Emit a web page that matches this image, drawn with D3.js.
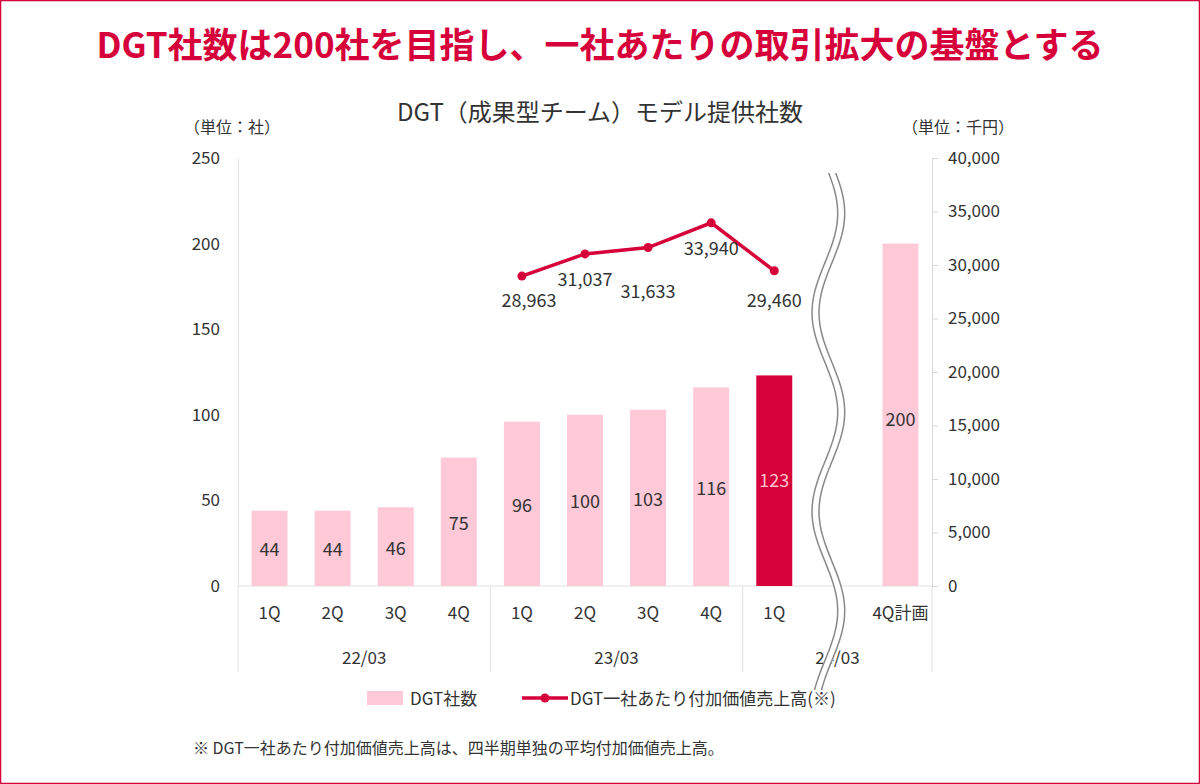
<!DOCTYPE html>
<html><head><meta charset="utf-8">
<script src="https://cdn.jsdelivr.net/npm/d3@7"></script>
<style>body{margin:0;background:#fff;font-family:"Noto Sans CJK JP","Noto Sans",sans-serif;}</style>
</head><body><div id="c"></div>
<script>
var categories = ["1Q","2Q","3Q","4Q","1Q","2Q","3Q","4Q","1Q","","4Q計画"];
var groups = [{label:"22/03", from:0, to:4}, {label:"23/03", from:4, to:8}, {label:"24/03", from:8, to:11}];
var companies = [44,44,46,75,96,100,103,116,123,null,200];
var salesIdx = [4,5,6,7,8];
var sales = [28963,31037,31633,33940,29460];
var salesLabelDy = [31,32,50,32,36];
var leftTicks = [0,50,100,150,200,250];
var rightTicks = [0,5000,10000,15000,20000,25000,30000,35000,40000];

var W=1200,H=784, red="#d6003a", pink="#ffc9d8", txt="#333";
var svg=d3.select("#c").append("svg").attr("width",W).attr("height",H);
svg.append("rect").attr("x",0.5).attr("y",0.5).attr("width",W-1).attr("height",H-1).attr("fill","#fff").attr("stroke",red).attr("stroke-width",1.5);
svg.append("text").attr("x",600).attr("y",58).attr("text-anchor","middle").attr("fill",red).attr("font-size",35).attr("font-weight","bold").text("DGT社数は200社を目指し、一社あたりの取引拡大の基盤とする");
svg.append("text").attr("x",600).attr("y",121).attr("text-anchor","middle").attr("fill",txt).attr("font-size",24).text("DGT（成果型チーム）モデル提供社数");

var L=238, R=932, T=158, B=586;
var x=d3.scaleBand().domain(d3.range(categories.length)).range([L,R]).paddingInner(0.43).paddingOuter(0.215);
var y=d3.scaleLinear().domain([0,250]).range([B,T]);
var y2=d3.scaleLinear().domain([0,40000]).range([B,T]);
var cx=function(i){return x(i)+x.bandwidth()/2;};

var gl=svg.append("g").attr("transform","translate("+L+",0)").call(d3.axisLeft(y).tickValues(leftTicks).tickSize(0).tickPadding(18));
gl.select(".domain").attr("stroke","#e2e2e2");
gl.selectAll("text").attr("font-size",17).attr("fill",txt).attr("font-family","Noto Sans CJK JP");
var gr=svg.append("g").attr("transform","translate("+R+",0)").call(d3.axisRight(y2).tickValues(rightTicks).tickFormat(d3.format(",")).tickSize(6).tickPadding(10));
gr.selectAll("line,.domain").attr("stroke","#d8d8d8");
gr.selectAll("text").attr("font-size",17).attr("fill",txt).attr("font-family","Noto Sans CJK JP");
svg.append("text").attr("x",232).attr("y",133).attr("text-anchor","middle").attr("fill",txt).attr("font-size",16).text("（単位：社）");
svg.append("text").attr("x",958).attr("y",133).attr("text-anchor","middle").attr("fill",txt).attr("font-size",16).text("（単位：千円）");

svg.append("line").attr("x1",L).attr("x2",R).attr("y1",B).attr("y2",B).attr("stroke","#e2e2e2");
var bounds=[L, x(4)-x.step()*x.paddingInner()/2, x(8)-x.step()*x.paddingInner()/2, R];
svg.selectAll(".sep").data(bounds).enter().append("line").attr("x1",function(d){return d;}).attr("x2",function(d){return d;}).attr("y1",B).attr("y2",672).attr("stroke","#e2e2e2");
svg.selectAll(".cat").data(categories).enter().append("text").attr("x",function(d,i){return cx(i);}).attr("y",619).attr("text-anchor","middle").attr("fill",txt).attr("font-size",17).text(function(d){return d;});
svg.selectAll(".grp").data(groups).enter().append("text").attr("x",function(d,i){return (bounds[i]+bounds[i+1])/2;}).attr("y",664).attr("text-anchor","middle").attr("fill",txt).attr("font-size",17).text(function(d){return d.label;});

var bd=companies.map(function(v,i){return {v:v,i:i};}).filter(function(d){return d.v!=null;});
svg.selectAll(".bar").data(bd).enter().append("rect").attr("x",function(d){return x(d.i);}).attr("width",x.bandwidth()).attr("y",function(d){return y(d.v);}).attr("height",function(d){return B-y(d.v);}).attr("fill",function(d){return d.i===8?red:pink;});
svg.selectAll(".bl").data(bd).enter().append("text").attr("x",function(d){return cx(d.i);}).attr("y",function(d){return d.i===10?y(d.v)+182:Math.min((y(d.v)+B)/2+8, y(d.v)+112);}).attr("text-anchor","middle").attr("font-size",18).attr("fill",function(d){return d.i===8?"#ffc0d0":txt;}).text(function(d){return d.v;});

var ld=sales.map(function(v,k){return {v:v,i:salesIdx[k],dy:salesLabelDy[k]};});
svg.append("path").datum(ld).attr("fill","none").attr("stroke",red).attr("stroke-width",3.5).attr("d",d3.line().x(function(d){return cx(d.i);}).y(function(d){return y2(d.v);}));
svg.selectAll(".dot").data(ld).enter().append("circle").attr("cx",function(d){return cx(d.i);}).attr("cy",function(d){return y2(d.v);}).attr("r",4.5).attr("fill",red);
svg.selectAll(".ll").data(ld).enter().append("text").attr("x",function(d){return cx(d.i)+(d.i===4?7:0);}).attr("y",function(d){return y2(d.v)+d.dy;}).attr("text-anchor","middle").attr("font-size",18).attr("fill",txt).text(function(d){return d3.format(",")(d.v);});

// break mark (decorative wave)
var bx=cx(9)-9, y0w=173, y1w=690;
var pts=d3.range(0,61).map(function(k){var t=k/60;return [bx+13*Math.sin(t*Math.PI*5.2+0.3), y0w+t*(y1w-y0w)];});
var wave=d3.line().curve(d3.curveBasis);
svg.append("path").attr("d",wave(pts)).attr("fill","none").attr("stroke","#fff").attr("stroke-width",8);
[-3.5,3.5].forEach(function(o){
  svg.append("path").attr("d",wave(pts.map(function(p){return [p[0]+o,p[1]];}))).attr("fill","none").attr("stroke","#888").attr("stroke-width",1.5);
});

svg.append("rect").attr("x",367).attr("y",691).attr("width",36).attr("height",14).attr("fill",pink);
svg.append("text").attr("x",410).attr("y",705).attr("fill",txt).attr("font-size",17).text("DGT社数");
svg.append("line").attr("x1",522).attr("x2",568).attr("y1",698).attr("y2",698).attr("stroke",red).attr("stroke-width",3.5);
svg.append("circle").attr("cx",545).attr("cy",698).attr("r",4.5).attr("fill",red);
svg.append("text").attr("x",570).attr("y",705).attr("fill",txt).attr("font-size",17).text("DGT一社あたり付加価値売上高(※)");
svg.append("text").attr("x",193).attr("y",754).attr("fill",txt).attr("font-size",16).text("※ DGT一社あたり付加価値売上高は、四半期単独の平均付加価値売上高。");
</script></body></html>
